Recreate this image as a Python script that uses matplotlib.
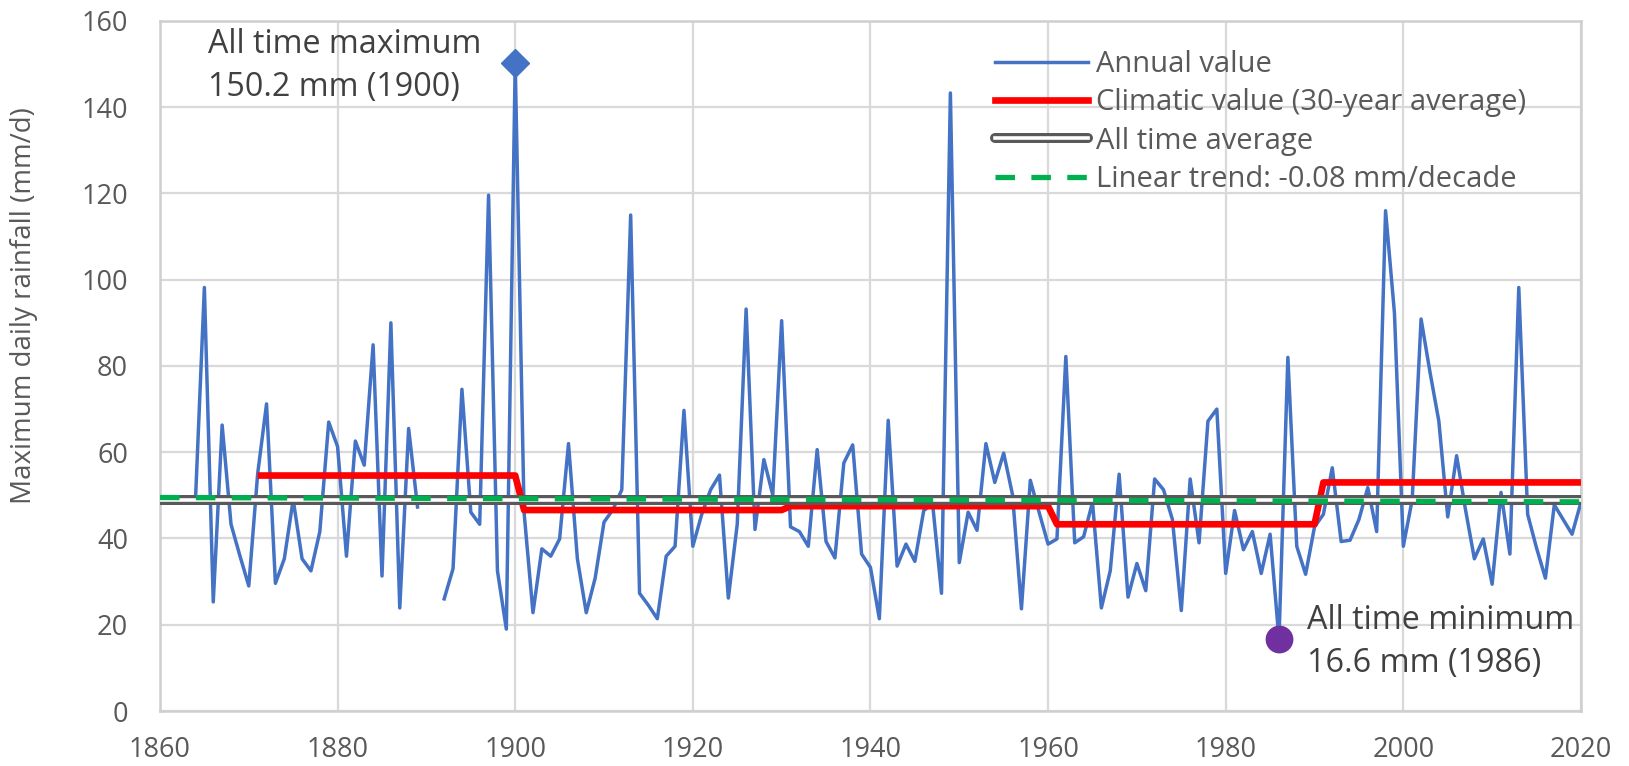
import numpy as np
import matplotlib
matplotlib.use("Agg")
import matplotlib.pyplot as plt
from matplotlib.lines import Line2D
from matplotlib.legend_handler import HandlerTuple

# ---------------- data ----------------
first_year = 1864
last_year = 2020
annual_values = [
    49.0, 98.2, 25.3, 66.3, 43.3, 36.0, 29.0,                      # 1864-1870
    55.0, 71.2, 29.6, 35.3, 49.0, 35.3, 32.5, 41.6, 67.0, 61.3,    # 1871-1880
    35.9, 62.6, 57.0, 84.9, 31.3, 90.0, 23.9, 65.5, 47.3, np.nan,  # 1881-1890
    np.nan, 26.0, 33.0, 74.6, 46.1, 43.3, 119.6, 32.5, 19.0, 150.2,  # 1891-1900
    46.0, 22.8, 37.6, 35.9, 39.9, 62.0, 35.3, 22.8, 30.8, 43.8,    # 1901-1910
    46.7, 51.3, 115.0, 27.3, 24.5, 21.4, 35.9, 38.2, 69.7, 38.2,   # 1911-1920
    45.6, 51.3, 54.7, 26.2, 43.3, 93.2, 42.1, 58.3, 50.1, 90.5,    # 1921-1930
    42.7, 41.6, 38.2, 60.6, 39.3, 35.5, 57.5, 61.7, 36.4, 33.3,    # 1931-1940
    21.4, 67.4, 33.6, 38.7, 34.7, 46.5, 48.0, 27.3, 143.3, 34.4,   # 1941-1950
    46.1, 41.9, 62.0, 53.0, 59.8, 50.1, 23.7, 53.5, 46.0, 38.7,    # 1951-1960
    39.9, 82.2, 39.0, 40.4, 48.4, 23.9, 32.5, 54.9, 26.4, 34.2,    # 1961-1970
    27.9, 53.8, 51.3, 44.4, 23.3, 53.8, 39.0, 67.2, 70.0, 31.9,    # 1971-1980
    46.5, 37.4, 41.6, 31.9, 41.0, 16.6, 82.0, 38.2, 31.7, 42.7,    # 1981-1990
    45.6, 56.4, 39.3, 39.6, 44.4, 51.8, 41.6, 116.0, 92.3, 38.2,   # 1991-2000
    49.0, 90.9, 78.6, 67.2, 45.0, 59.2, 46.7, 35.3, 39.9, 29.4,    # 2001-2010
    50.7, 36.4, 98.2, 45.6, 37.8, 30.8, 47.8, 44.4, 41.0, 48.4,    # 2011-2020
]
annual_years = np.arange(first_year, last_year + 1)
assert len(annual_values) == len(annual_years)

period_starts = [1871, 1901, 1931, 1961, 1991]
period_ends = [1900, 1930, 1960, 1990, 2020]
period_means = [54.6, 46.6, 47.5, 43.3, 53.0]

all_time_average = 49.0
trend_years = [1860, 2020]
trend_values = [49.5, 48.5]          # -0.08 mm/decade (as drawn)

max_year, max_value = 1900, 150.2
min_year, min_value = 1986, 16.6

xticks = [1860, 1880, 1900, 1920, 1940, 1960, 1980, 2000, 2020]
yticks = [0, 20, 40, 60, 80, 100, 120, 140, 160]

legend_labels = ["Annual value", "Climatic value (30-year average)",
                 "All time average", "Linear trend: -0.08 mm/decade"]

# --------------- styling ---------------
BLUE = "#4472C4"
RED = "#FF0000"
GRAY = "#595959"
GREEN = "#00B050"
PURPLE = "#7030A0"
GRID = "#D9D9D9"
TEXT = "#595959"
FONT = "Open Sans"

plt.rcParams["font.family"] = [FONT, "DejaVu Sans"]

fig = plt.figure(figsize=(16.29, 7.66), dpi=100)
ax = fig.add_axes([0.0982, 0.0718, 0.8723, 0.9008])

# climatic step line built from period means
clim_x, clim_y = [], []
for s, e, m in zip(period_starts, period_ends, period_means):
    for yr in range(s, e + 1):
        clim_x.append(yr)
        clim_y.append(m)

ax.plot(annual_years, annual_values, color=BLUE, lw=2.5, zorder=3)
ax.plot(clim_x, clim_y, color=RED, lw=4.8, zorder=4, solid_capstyle="butt")
ax.plot(trend_years, [all_time_average] * 2, color=GRAY, lw=7.2, zorder=5,
        solid_capstyle="butt")
ax.plot(trend_years, [all_time_average] * 2, color="white", lw=2.6, zorder=6,
        solid_capstyle="butt")
ax.plot(trend_years, trend_values, color=GREEN, lw=3.8, zorder=7,
        dashes=(3.7, 3.1))

ax.plot([max_year], [max_value], marker="D", ms=14, color=BLUE, zorder=8,
        linestyle="none")
ax.plot([min_year], [min_value], marker="o", ms=19, color=PURPLE, zorder=8,
        linestyle="none")

ax.text(1865.4, 142.5, f"All time maximum\n{max_value} mm ({max_year})",
        fontsize=23.2, color="#404040", va="baseline", ha="left",
        linespacing=1.4, zorder=9)
ax.text(1989.2, 9.0, f"All time minimum\n{min_value} mm ({min_year})",
        fontsize=23.3, color="#404040", va="baseline", ha="left",
        linespacing=1.4, zorder=9)

ax.set_xlim(1860, 2020)
ax.set_ylim(0, 160)
ax.set_xticks(xticks)
ax.set_yticks(yticks)
ax.tick_params(axis="both", length=0, labelsize=19.5, labelcolor=TEXT)
ax.tick_params(axis="y", pad=23)
ax.tick_params(axis="x", pad=18)
ax.grid(True, color=GRID, lw=1.6, zorder=0)
ax.set_axisbelow(True)
for sp in ax.spines.values():
    sp.set_color("#CFCFCF")
    sp.set_linewidth(1.8)

fig.text(0.015, 0.601, "Maximum daily rainfall (mm/d)", rotation=90,
         ha="center", va="center", fontsize=20, color=TEXT)

h_blue = Line2D([], [], color=BLUE, lw=2.5)
h_red = Line2D([], [], color=RED, lw=4.8)
h_gray_o = Line2D([], [], color=GRAY, lw=7.2, solid_capstyle="round")
h_gray_i = Line2D([], [], color="white", lw=2.6)
h_green = Line2D([], [], color=GREEN, lw=3.8, dashes=(3.7, 3.1))
leg = ax.legend([h_blue, h_red, (h_gray_o, h_gray_i), h_green], legend_labels,
                handler_map={tuple: HandlerTuple(ndivide=1, pad=0)},
                loc="upper left", bbox_to_anchor=(995 / 1629, 1 - 50 / 766),
                bbox_transform=fig.transFigure, frameon=False,
                fontsize=21, handlelength=3.2, handletextpad=0.28,
                labelspacing=0.32, borderpad=0, borderaxespad=0)
for t in leg.get_texts():
    t.set_color(TEXT)
leg.set_zorder(10)

fig.savefig("out.png", dpi=100)
